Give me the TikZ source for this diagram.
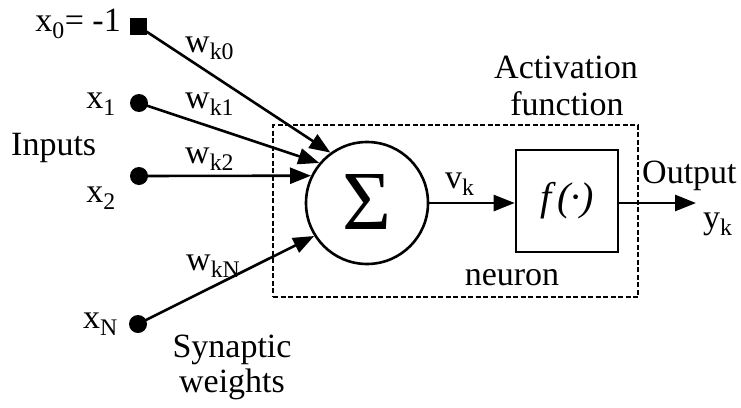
\documentclass[tikz,border=0pt]{standalone}
\usepackage{fontspec}
\setmainfont{Liberation Serif}
\usetikzlibrary{arrows.meta}
\begin{document}
\begin{tikzpicture}[x=1pt,y=-1pt,
  lbl/.style={inner sep=0pt,font=\fontsize{34}{37}\selectfont},
  conn/.style={line width=2.6pt,-{Triangle[length=21pt,width=16pt]}},
  dotin/.style={circle,fill=black,inner sep=0pt,minimum size=18pt},
  sqin/.style={rectangle,fill=black,inner sep=0pt,minimum size=17pt}]
\useasboundingbox (0,0) rectangle (741,407);
% dashed neuron box
\node[draw,line width=1.5pt,dash pattern=on 5pt off 2.5pt,inner sep=0pt,
  minimum width=365pt,minimum height=172pt] (neuronbox) at (455.5,211) {};
% summation
\node[draw,circle,line width=2.6pt,minimum size=122pt,inner sep=0pt,
  font=\fontsize{84}{84}\selectfont] (sum) at (367,203) {\raisebox{2pt}{Σ}};
% activation box
\node[draw,line width=2.6pt,minimum width=102pt,minimum height=102pt,inner sep=0pt,
  font=\fontsize{40}{40}\selectfont] (act) at (567,201) {\textit{f}\kern1pt\textit{(·)}};
% inputs
\node[sqin] (x0) at (138,26) {};
\node[dotin] (x1) at (139,103) {};
\node[dotin] (x2) at (139,176) {};
\node[dotin] (xN) at (138,324) {};
\coordinate (out) at (696,203);
% connectors
\draw[conn] (x0.center) -- (sum.126);
\draw[conn] (x1.center) -- (sum.140);
\draw[conn] (x2.center) -- (sum.154);
\draw[conn] (xN.center) -- (sum.212);
\draw[conn] (sum.east) -- (sum.east -| act.west);
\draw[conn] (act.east |- out) -- (out);
% labels
\node[lbl,anchor=base east] (lx0) at (121,31) {x\textsubscript{0}= -1};
\node[lbl,anchor=base east] (lx1) at (116,108) {x\textsubscript{1}};
\node[lbl,anchor=base east] (lx2) at (116,202) {x\textsubscript{2}};
\node[lbl,anchor=base east] (lxN) at (118,328) {x\textsubscript{N}};
\node[lbl,anchor=base west] (inputs) at (11,155) {Inputs};
\node[lbl,anchor=base west] (w0) at (185,52) {w\textsubscript{k0}};
\node[lbl,anchor=base west] (w1) at (185,108) {w\textsubscript{k1}};
\node[lbl,anchor=base west] (w2) at (185,163) {w\textsubscript{k2}};
\node[lbl,anchor=base west] (wN) at (186,270) {w\textsubscript{kN}};
\node[lbl,anchor=base] (syn1) at (232,357) {Synaptic};
\node[lbl,anchor=base] (syn2) at (232,392) {weights};
\node[lbl,anchor=base] (act1) at (566,78) {Activation};
\node[lbl,anchor=base] (act2) at (567,115) {function};
\node[lbl,anchor=base west] (vk) at (445,188) {v\textsubscript{k}};
\node[lbl,anchor=base] (neuron) at (512,285) {neuron};
\node[lbl,anchor=base west] (output) at (642,183) {Output};
\node[lbl,anchor=base west] (yk) at (703,228) {y\textsubscript{k}};
\end{tikzpicture}
\end{document}
